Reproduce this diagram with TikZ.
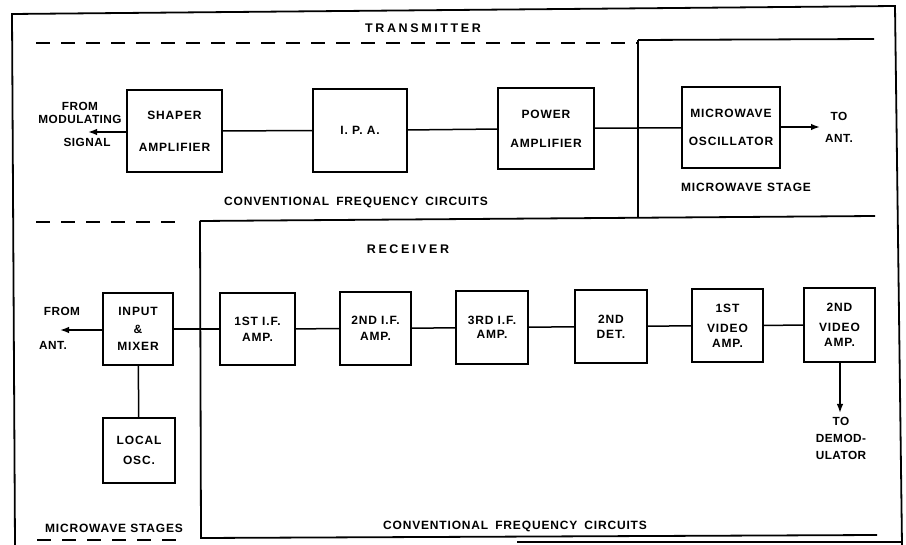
\documentclass[tikz,border=0pt]{standalone}
\usepackage{fontspec}
\setmainfont{Liberation Sans}
\newfontfamily\blkfont{Liberation Sans}[LetterSpace=7]
\newfontfamily\sidefont{Liberation Sans}[LetterSpace=4]
\newfontfamily\titlefont{Liberation Sans}[LetterSpace=21]
\usetikzlibrary{arrows.meta}

\begin{document}
\begin{tikzpicture}[x=1pt, y=-1pt, >={Latex[length=9pt, width=6.5pt]},
        blk/.style={draw, line width=1.9pt, inner sep=0pt, align=center,
            font=\blkfont\bfseries\fontsize{12}{12.5}\selectfont},
        lbl/.style={inner sep=0pt, align=center,
            font=\blkfont\bfseries\fontsize{12}{12.5}\selectfont},
        side/.style={inner sep=0pt, align=center,
            font=\sidefont\bfseries\fontsize{11.8}{12.3}\selectfont},
        ttl/.style={inner sep=0pt, font=\titlefont\bfseries\fontsize{12.5}{13}\selectfont},
        wire/.style={line width=1.5pt},
        frm/.style={line width=1.8pt},
        dsh/.style={line width=2pt, dash pattern=on 14pt off 11pt}]
        \useasboundingbox (0,0) rectangle (906,545);
        % Outer frame
        \draw [frm] (15,545) -- (12,14) -- (895,6) -- (902,545);
        \draw [frm] (517,542) -- (902,542);
        % Transmitter section
        \draw [dsh] (36,43) -- (637,43);
        \draw [frm] (638,40) -- (874,39);
        \draw [frm] (638,40) -- (638,218);
        \node [ttl] (tx) at (423,28) {TRANSMITTER};
        % Receiver section
        \draw [frm] (200,221) -- (875,216);
        \draw [frm] (200,221) -- (201,538) -- (877,535);
        \draw [dsh] (36,222) -- (180,222);
        \draw [dsh] (37,540) -- (184,540);
        \node [ttl] (rx) at (408,249) {RECEIVER};
        % Transmitter blocks
        \node [blk, minimum width=95pt, minimum height=82pt] (shp) at (174.5,131) {SHAPER\\[19.5pt]AMPLIFIER};
        \node [blk, minimum width=94pt, minimum height=83pt] (ipa) at (360,130.5) {I. P. A.};
        \node [blk, minimum width=96pt, minimum height=81pt] (pa) at (546,128.5) {POWER\\[16.5pt]AMPLIFIER};
        \node [blk, minimum width=98pt, minimum height=81pt] (osc) at (731,127.5) {MICROWAVE\\[15.5pt]OSCILLATOR};
        \draw [wire] (shp) -- (ipa);
        \draw [wire] (ipa) -- (pa);
        \draw [wire] (pa) -- (osc);
        % Transmitter in and out
        \coordinate (sigend) at (88,132);
        \draw [wire, ->] (shp.west |- sigend) -- (sigend);
        \node [side] (sig1) at (80,113) {FROM\\MODULATING};
        \node [side] (sig2) at (87,142) {SIGNAL};
        \coordinate (antend) at (820,127);
        \draw [wire, ->] (osc.east |- antend) -- (antend);
        \node [side] (toant) at (839,127.5) {TO\\[9pt]ANT.};
        \node [lbl] (txconv) at (356,202) {CONVENTIONAL\hspace{7pt}FREQUENCY\hspace{7pt}CIRCUITS};
        \node [lbl] (mwst) at (746,187) {MICROWAVE\hspace{5pt}STAGE};
        % Receiver blocks
        \node [blk, minimum width=70pt, minimum height=72pt] (mix) at (138,329) {INPUT\\[5pt]\&\\[5pt]MIXER};
        \node [blk, minimum width=72pt, minimum height=65pt] (lo) at (139,450.5) {LOCAL\\[7.5pt]OSC.};
        \node [blk, minimum width=75pt, minimum height=72pt] (if1) at (257.5,329) {1ST I.F.\\[3.5pt]AMP.};
        \node [blk, minimum width=71pt, minimum height=73pt] (if2) at (375.5,328.5) {2ND I.F.\\[3.5pt]AMP.};
        \node [blk, minimum width=72pt, minimum height=73pt] (if3) at (492,327.5) {3RD I.F.\\[2pt]AMP.};
        \node [blk, minimum width=72pt, minimum height=73pt] (det) at (611,326.5) {2ND\\[2.5pt]DET.};
        \node [blk, minimum width=71pt, minimum height=73pt] (vid1) at (727.5,325.5) {1ST\\[7.5pt]VIDEO\\[2.5pt]AMP.};
        \node [blk, minimum width=71pt, minimum height=74pt] (vid2) at (839.5,325) {2ND\\[7.5pt]VIDEO\\[2.5pt]AMP.};
        \draw [wire] (mix) -- (if1);
        \draw [wire] (if1) -- (if2);
        \draw [wire] (if2) -- (if3);
        \draw [wire] (if3) -- (det);
        \draw [wire] (det) -- (vid1);
        \draw [wire] (vid1) -- (vid2);
        \draw [wire] (mix) -- (lo);
        % Receiver in and out
        \coordinate (rxin) at (60,330);
        \draw [wire, ->] (mix.west |- rxin) -- (rxin);
        \node [side] (fa1) at (62,311) {FROM};
        \node [side] (fa2) at (53,345) {ANT.};
        \coordinate (demend) at (840,413);
        \draw [wire, ->] (vid2.south -| demend) -- (demend);
        \node [side] (dem) at (841,438.5) {TO\\[5pt]DEMOD-\\[5pt]ULATOR};
        \node [lbl] (mwsts) at (114,528) {MICROWAVE STAGES};
        \node [lbl] (rxconv) at (515,526) {CONVENTIONAL\hspace{7pt}FREQUENCY\hspace{7pt}CIRCUITS};
\end{tikzpicture}
\end{document}
